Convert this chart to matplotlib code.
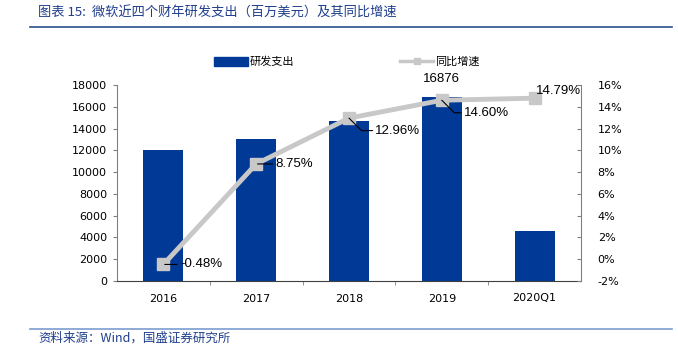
import matplotlib
matplotlib.use("Agg")
import matplotlib.pyplot as plt
from matplotlib.lines import Line2D
from matplotlib.patches import Patch

categories = ["2016", "2017", "2018", "2019", "2020Q1"]
rd_spend = [11988, 13037, 14726, 16876, 4565]
growth = [-0.48, 8.75, 12.96, 14.60, 14.79]
growth_labels = ["-0.48%", "8.75%", "12.96%", "14.60%", "14.79%"]
left_ticks = list(range(0, 18001, 2000))
right_ticks = list(range(-2, 17, 2))

CJK = ["Noto Sans CJK SC", "DejaVu Sans"]
BAR_C = "#003A96"
LINE_C = "#C8C8C8"
TITLE_C = "#1F3E8C"

fig = plt.figure(figsize=(6.78, 3.53), dpi=100)
ax = fig.add_axes([117/678, 1-281/353, 464/678, 196/353])
x = list(range(len(categories)))
ax.bar(x, rd_spend, width=0.43, color=BAR_C, zorder=2)
ax.set_xlim(-0.5, len(categories)-0.5)
ax.set_ylim(0, 18000)
ax.set_yticks(left_ticks)
ax.set_yticklabels([str(v) for v in left_ticks], fontsize=8, family="DejaVu Sans")
ax.set_xticks(x)
ax.set_xticklabels(categories, fontsize=8, family="DejaVu Sans")
ax.tick_params(axis="x", length=0, pad=9)
ax.set_xticks([i+0.5 for i in range(len(categories)-1)], minor=True)
ax.tick_params(axis="x", which="minor", length=3, direction="out", color="#808080")
ax.tick_params(axis="y", length=3, color="#808080", pad=4)
ax.spines["top"].set_visible(False)
ax.spines["right"].set_visible(False)
ax.spines["left"].set_color("#808080")
ax.spines["bottom"].set_color("#404040")

ax.annotate("16876", (3, rd_spend[3]), xytext=(0, 9), textcoords="offset points",
            ha="center", va="bottom", fontsize=9.5, family="Liberation Sans")

ax2 = ax.twinx()
ax2.set_ylim(-2, 16)
ax2.set_yticks(right_ticks)
ax2.set_yticklabels([f"{v}%" for v in right_ticks], fontsize=8, family="DejaVu Sans")
ax2.tick_params(axis="y", length=3, direction="in", color="#808080", pad=12)
for s in ["top", "left", "bottom"]:
    ax2.spines[s].set_visible(False)
ax2.spines["right"].set_color("#808080")
ax2.plot(x, growth, color=LINE_C, lw=3.5, marker="s", markersize=9,
         markerfacecolor=LINE_C, markeredgecolor=LINE_C, zorder=3)

# data labels with leader lines (offsets in points)
offsets = [(12, 0), (14, 0), (19, -9), (16, -9), (1, 5)]
for i, (g, lab, off) in enumerate(zip(growth, growth_labels, offsets)):
    if i == 4:
        ax2.annotate(lab, (x[i], g), xytext=off, textcoords="offset points",
                     ha="left", va="center", fontsize=9.5, family="Liberation Sans")
    elif i in (0, 1):
        ax2.annotate(lab, (x[i], g), xytext=off, textcoords="offset points",
                     ha="left", va="center", fontsize=9.5, family="Liberation Sans",
                     arrowprops=dict(arrowstyle="-", color="black", lw=0.8,
                                     shrinkA=0, shrinkB=1))
    else:
        ax2.annotate(lab, (x[i], g), xytext=off, textcoords="offset points",
                     ha="left", va="center", fontsize=9.5, family="Liberation Sans",
                     arrowprops=dict(arrowstyle="-", color="black", lw=0.8,
                                     shrinkA=0, shrinkB=0,
                                     connectionstyle="angle,angleA=0,angleB=-45,rad=0"))

# legend
handles = [Patch(facecolor=BAR_C, edgecolor=BAR_C),
           Line2D([], [], color=LINE_C, lw=2.5, marker="s", markersize=5,
                  markerfacecolor=LINE_C, markeredgecolor=LINE_C)]
fig.legend(handles, ["研发支出", "同比增速"], loc="center", bbox_to_anchor=(0.512, 1-62/353),
           ncol=2, frameon=False, columnspacing=9.5, handlelength=3.0, handleheight=0.9,
           handletextpad=0.2, prop={"family": CJK, "size": 8})

# title and source
fig.text(38/678, 1-13/353, "图表 15:  微软近四个财年研发支出（百万美元）及其同比增速",
         color=TITLE_C, fontsize=9.5, family=CJK, va="center", ha="left", style="italic")
fig.add_artist(Line2D([30/678, 672/678], [1-27/353, 1-27/353], color="#2A4F8C", lw=1.2))
fig.add_artist(Line2D([30/678, 672/678], [1-329/353, 1-329/353], color="#7A9CD0", lw=1.2))
fig.text(38/678, 1-338/353, "资料来源：Wind，国盛证券研究所",
         color=TITLE_C, fontsize=9, family=CJK, va="center", ha="left", style="italic")

fig.savefig("out.png", dpi=100)
